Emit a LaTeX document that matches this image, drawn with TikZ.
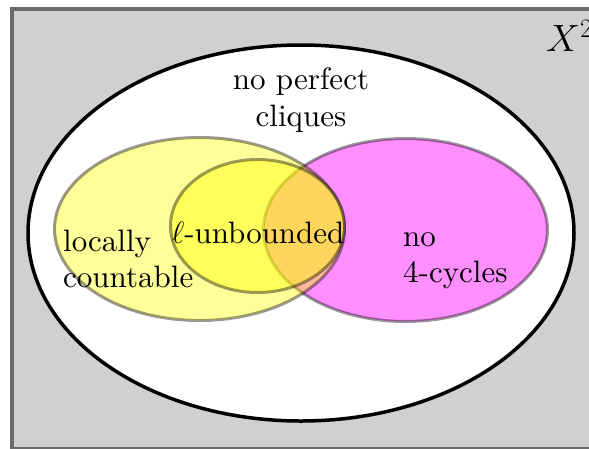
\RequirePackage{fix-cm}
\documentclass[tikz,border=0pt]{standalone}
\usepackage{fontspec}
\setmainfont{lmroman10-regular.otf}[BoldFont = lmroman10-bold.otf, ItalicFont = lmroman10-italic.otf]
\usepackage{tikz}
\usetikzlibrary{positioning}
\definecolor{bggray}{HTML}{D0D0D0}
\definecolor{edgegray}{HTML}{6B6B6B}
\definecolor{vennmag}{RGB}{255,0,255}
\definecolor{vennyel}{RGB}{255,255,0}

\begin{document}
\begin{tikzpicture}[x = 1pt, y = -1pt,
    venn/.style = {draw = black, draw opacity = 0.4, line width = 3pt},
    lbl/.style = {font = \fontsize{31}{36}\selectfont, inner sep = 0pt}]
    \useasboundingbox (0,0) rectangle (589,448);
    \begin{scope}
        \clip (0,0) rectangle (589,448);
        \draw[fill = bggray, draw = edgegray, line width = 3.5pt] (12,9) rectangle (620,448.5);
    \end{scope}
    \draw[fill = white, line width = 3.5pt] (301,233) ellipse [x radius = 273, y radius = 188];
        % Sets
    \draw[venn, fill = vennmag, fill opacity = 0.44] (405.5,230) ellipse [x radius = 142, y radius = 91.5];
    \draw[venn, fill = vennyel, fill opacity = 0.4] (199.5,229) ellipse [x radius = 145, y radius = 91.5];
    \draw[venn, fill = vennyel, fill opacity = 0.4] (257.5,226) ellipse [x radius = 87, y radius = 66.5];
        % Labels
    \node[lbl, anchor = base west, font = \fontsize{38}{44}\selectfont] (space) at (546,51) {$X^2$};
    \node[lbl, align = center, font = \fontsize{31}{37}\selectfont] (noclique) at (301,100) {no perfect\\cliques};
    \node[lbl, align = left, anchor = west] (loccount) at (63,259) {locally\\countable};
    \node[lbl, anchor = base] (unbounded) at (258,243) {$\ell$-unbounded};
    \node[lbl, align = left, anchor = west] (nocycle) at (403,261) {no\\4-cycles};
\end{tikzpicture}
\end{document}
